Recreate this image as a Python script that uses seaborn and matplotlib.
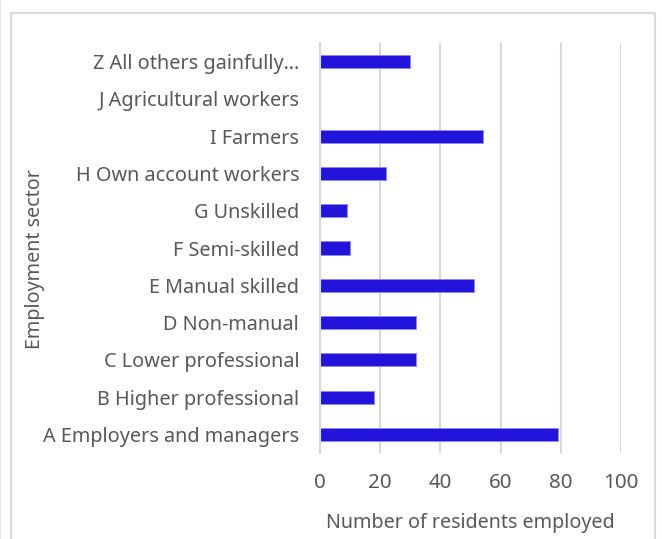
import matplotlib
matplotlib.use("Agg")
import matplotlib.pyplot as plt
import matplotlib.patches as mpatches
import seaborn as sns
import pandas as pd

# Employment by sector (top to bottom as displayed)
sectors = [
    "Z All others gainfully…",
    "J Agricultural workers",
    "I Farmers",
    "H Own account workers",
    "G Unskilled",
    "F Semi-skilled",
    "E Manual skilled",
    "D Non-manual",
    "C Lower professional",
    "B Higher professional",
    "A Employers and managers",
]
residents = [30, 0, 54, 22, 9, 10, 51, 32, 32, 18, 79]
x_ticks = [0, 20, 40, 60, 80, 100]

df = pd.DataFrame({"sector": sectors, "residents": residents})

sns.set_theme(style="white")
plt.rcParams["font.family"] = ["Noto Sans", "DejaVu Sans"]

text_color = "#595959"
grid_color = "#d9d9d9"
bar_color = "#2314DB"

fig = plt.figure(figsize=(6.62, 5.39), dpi=100)
ax = fig.add_axes([320 / 662, 1 - 453 / 539, 301 / 662, 410 / 539])

sns.barplot(data=df, x="residents", y="sector", order=sectors,
            color=bar_color, saturation=1, width=0.35, ax=ax,
            edgecolor="#8f88ee", linewidth=0.6)

ax.set_xlim(0, 100)
ax.set_xticks(x_ticks)
ax.set_xticklabels([str(t) for t in x_ticks])
ax.grid(axis="x", color=grid_color, linewidth=1.5)
ax.grid(axis="y", visible=False)
ax.set_axisbelow(True)

for side in ["top", "right", "bottom"]:
    ax.spines[side].set_visible(False)
ax.spines["left"].set_color(grid_color)
ax.spines["left"].set_linewidth(1.5)

ax.tick_params(axis="x", length=0, pad=14.5, labelsize=14.8, labelcolor=text_color)
ax.tick_params(axis="y", length=0, pad=15, labelsize=14.3, labelcolor=text_color)

ax.set_xlabel("Number of residents employed", fontsize=14.2, color=text_color, labelpad=14)
ax.set_ylabel("")
fig.text(35 / 662, 1 - 259 / 539, "Employment sector", rotation=90,
         ha="center", va="center", fontsize=14.2, color=text_color)

# Chart frame
fig.patches.append(mpatches.Rectangle((11 / 662, -0.05), 644 / 662, 1.05 - 13 / 539,
                                      transform=fig.transFigure, fill=False,
                                      edgecolor=grid_color, linewidth=1.5))
fig.patches.append(mpatches.Rectangle((0, -0.05), 1 / 662, 1.1,
                                      transform=fig.transFigure, fill=True,
                                      facecolor="#e6e6e6", edgecolor="none"))

fig.savefig("out.png", dpi=100)
